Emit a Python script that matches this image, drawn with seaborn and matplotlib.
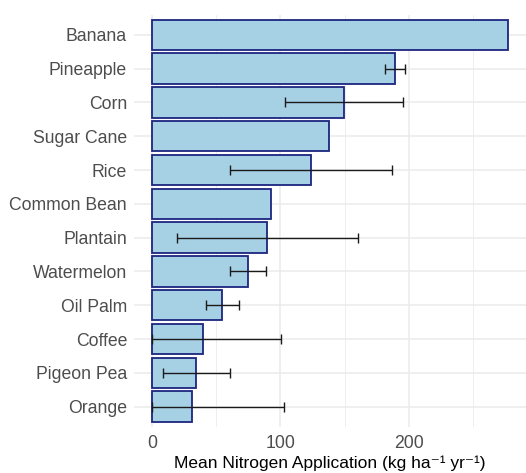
import matplotlib
matplotlib.use("Agg")
import matplotlib.pyplot as plt
import seaborn as sns
import pandas as pd
import numpy as np

crops = ["Banana", "Pineapple", "Corn", "Sugar Cane", "Rice", "Common Bean",
         "Plantain", "Watermelon", "Oil Palm", "Coffee", "Pigeon Pea", "Orange"]
mean_n = [277, 189, 149, 138, 124, 93, 89.5, 74.5, 54.5, 39.5, 34, 31.5]
# error bar ends (kg ha-1 yr-1); NaN where no error bar is shown
err_low = [np.nan, 181.5, 103.5, np.nan, 60.5, np.nan, 19.5, 60.5, 42, 0, 9, 0]
err_high = [np.nan, 196.5, 195, np.nan, 187, np.nan, 160, 88.5, 67.5, 100.5, 61, 102.5]

df = pd.DataFrame({"crop": crops, "mean": mean_n, "lo": err_low, "hi": err_high})

sns.set_theme(style="whitegrid")
plt.rcParams["font.family"] = ["Liberation Sans", "DejaVu Sans"]

fig = plt.figure(figsize=(5.26, 4.73), dpi=100)
ax = fig.add_axes([0.2548, 0.0973, 0.7452, 0.872])

sns.barplot(data=df, x="mean", y="crop", orient="h", color="#a6d0e4",
            edgecolor="#1c2580", linewidth=1.3, width=0.9, saturation=1, ax=ax)

pos = np.arange(len(crops))
has = df["lo"].notna().to_numpy()
m = df["mean"].to_numpy()
xerr = np.vstack([m[has] - df["lo"].to_numpy()[has], df["hi"].to_numpy()[has] - m[has]])
ax.errorbar(m[has], pos[has], xerr=xerr, fmt="none", ecolor="#1a1a1a",
            elinewidth=1.0, capsize=3.5, capthick=1.0, zorder=5)

xmax = 277
ax.set_xlim(-0.05 * xmax, 1.05 * xmax)
ax.set_ylim(len(crops) - 1 + 0.6, -0.6)
ax.set_xticks([0, 100, 200])
ax.set_xticks([50, 150, 250], minor=True)

ax.grid(True, which="major", axis="both", color="#ebebeb", linewidth=1.1)
ax.grid(True, which="minor", axis="x", color="#ebebeb", linewidth=0.6)
ax.set_axisbelow(True)
for s in ax.spines.values():
    s.set_visible(False)

ax.tick_params(axis="both", which="both", length=0, labelsize=12.7, colors="#4d4d4d")
ax.tick_params(axis="y", pad=5)
ax.tick_params(axis="x", pad=6)
ax.set_ylabel("")
ax.set_xlabel("Mean Nitrogen Application (kg ha\u207b\u00b9 yr\u207b\u00b9)",
              fontsize=12.5, color="black", labelpad=2)

fig.savefig("out.png", dpi=100)
